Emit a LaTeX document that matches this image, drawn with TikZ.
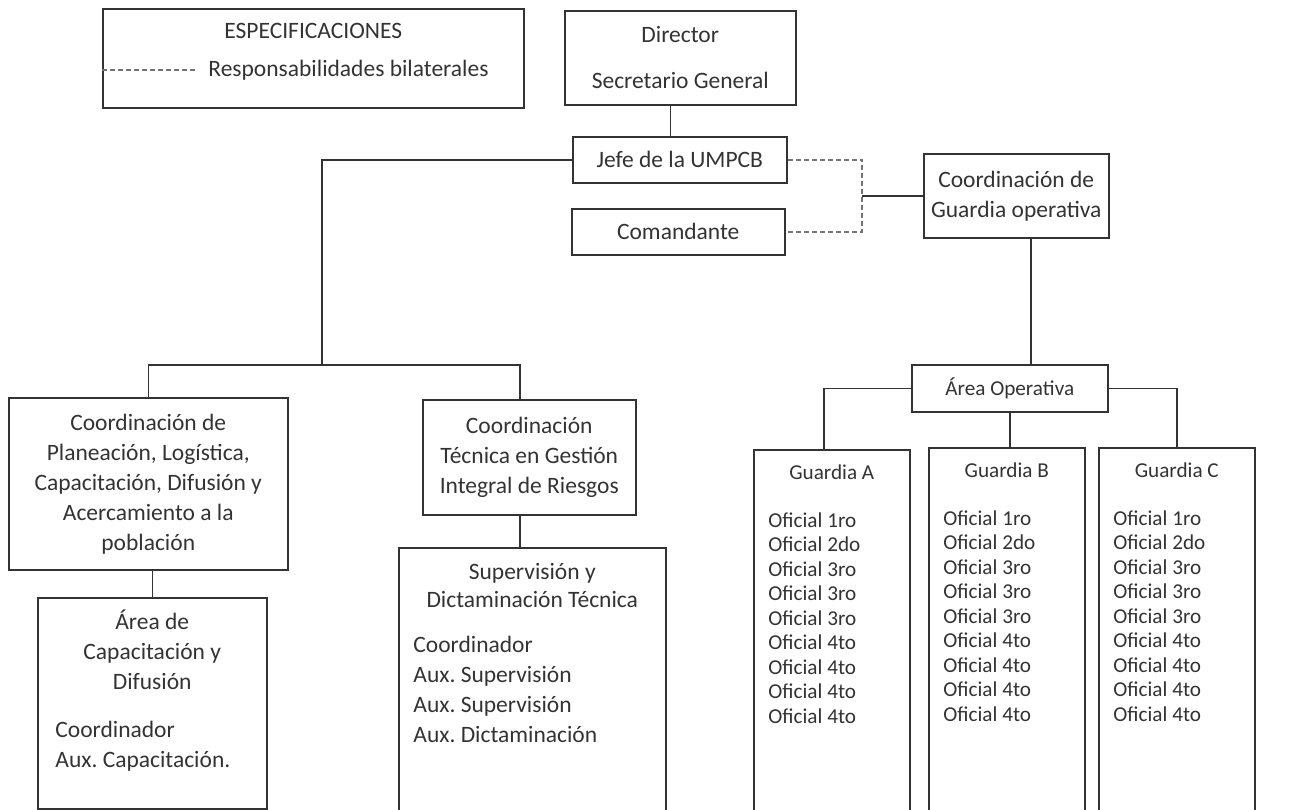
\documentclass[tikz,border=0pt]{standalone}
\usepackage{fontspec}
\setmainfont{Carlito}
\frenchspacing
\usetikzlibrary{positioning}

\begin{document}
\begin{tikzpicture}[x=0.5pt, y=-0.5pt,
    every node/.style={font={\fontsize{11.75pt}{15pt}\selectfont}, text=black!80, inner sep=0pt},
    small/.style={font={\fontsize{10.6pt}{15pt}\selectfont}},
    unit/.style={draw=black!80, line width=0.75pt, anchor=north west, align=center},
    link/.style={draw=black!80, line width=0.75pt},
    bilateral/.style={draw=black!55, line width=0.75pt, dash pattern=on 2.5pt off 1.5pt},
    heading/.style={anchor=base, align=flush center},
    roster/.style={anchor=base west, text width=70pt, align=flush left, font={\fontsize{10.6pt}{12.25pt}\selectfont}},
    staff/.style={anchor=base west, text width=110pt, align=flush left}]

    \useasboundingbox (0,0) rectangle (1311,809);

    % legend
    \node[unit, minimum width=210.5pt, minimum height=49.5pt] (spec) at (102,8) {};
    \node[heading] (spectitle) at ([yshift=-15pt]spec.north) {ESPECIFICACIONES};
    \node[anchor=west] (legend) at (208,70) {Responsabilidades bilaterales};
    \draw[bilateral] (spec.west |- legend.west) -- ++(93,0);

    % top of the chart
    \node[unit, minimum width=115.5pt, minimum height=47pt] (director) at (564,10) {Director\\[8pt]Secretario General};
    \node[unit, minimum width=107pt, minimum height=23pt] (jefe) at (572,136) {Jefe de la UMPCB};
    \node[unit, minimum width=106.5pt, minimum height=23pt] (comandante) at (571,208) {Comandante};
    \node[unit, minimum width=92.5pt, minimum height=42pt] (coordguardia) at (923,153) {Coordinación de\\Guardia operativa};

    % left branch
    \node[unit, minimum width=139.5pt, minimum height=86pt] (coordplan) at (8,397) {Coordinación de\\Planeación, Logística,\\Capacitación, Difusión y\\Acercamiento a la\\población};
    \node[unit, minimum width=114.5pt, minimum height=105.5pt] (areacap) at (37,597) {};
    \node[heading, text width=110pt] (areacaphead) at ([yshift=-16pt]areacap.north) {Área de\\Capacitación y\\Difusión};
    \node[staff] (areacaplist) at ([xshift=9pt, yshift=-70pt]areacap.north west) {Coordinador\\Aux. Capacitación.};

    \node[unit, minimum width=106.5pt, minimum height=57.5pt] (coordtec) at (422,399) {Coordinación\\Técnica en Gestión\\Integral de Riesgos};
    \node[unit, minimum width=133.5pt, minimum height=140pt] (superv) at (398,547) {};
    \node[heading, text width=130pt, font={\fontsize{11.75pt}{14pt}\selectfont}] (supervhead) at ([yshift=-16pt]superv.north) {Supervisión y\\Dictaminación Técnica};
    \node[staff] (supervlist) at ([xshift=7.5pt, yshift=-52.5pt]superv.north west) {Coordinador\\Aux. Supervisión\\Aux. Supervisión\\Aux. Dictaminación};

    % right branch
    \node[unit, small, minimum width=98pt, minimum height=23.5pt] (areaop) at (911,364) {Área Operativa};
    \foreach \name/\lbl/\xa/\ya in {guardA/A/753/449, guardB/B/928/447, guardC/C/1098/447} {
        \node[unit, minimum width=78pt, minimum height=185pt] (\name) at (\xa,\ya) {};
        \node[heading, small] (\name head) at ([yshift=-15pt]\name.north) {Guardia \lbl};
        \node[roster] (\name list) at ([xshift=7.5pt, yshift=-39pt]\name.north west) {Oficial 1ro\\Oficial 2do\\Oficial 3ro\\Oficial 3ro\\Oficial 3ro\\Oficial 4to\\Oficial 4to\\Oficial 4to\\Oficial 4to};
    }

    % connectors
    \coordinate (bar) at (322,365);
    \path (coordguardia.west) ++(-61,0) coordinate (junc);
    \draw[link] ([xshift=-5pt]director.south) -- ([xshift=-5pt]director.south |- jefe.north);
    \draw[link] (jefe.west) -| (bar);
    \draw[link] (coordplan.north) |- (bar) -| ([xshift=-4.75pt]coordtec.north);
    \draw[link] (coordplan.south -| areacap.north) -- (areacap.north);
    \draw[link] ([xshift=-4.75pt]coordtec.south) -- ([xshift=-4.75pt]coordtec.south |- superv.north);
    \draw[bilateral] (jefe.east) -| (junc) |- (comandante.east);
    \draw[link] (junc) -- (coordguardia.west);
    \draw[link] ([xshift=7.25pt]coordguardia.south) -- ([xshift=7.25pt]coordguardia.south |- areaop.north);
    \draw[link] (areaop.west) -| ([xshift=-4pt]guardA.north);
    \draw[link] (areaop.south) -- (areaop.south |- guardB.north);
    \draw[link] (areaop.east) -| (guardC.north);

\end{tikzpicture}
\end{document}
